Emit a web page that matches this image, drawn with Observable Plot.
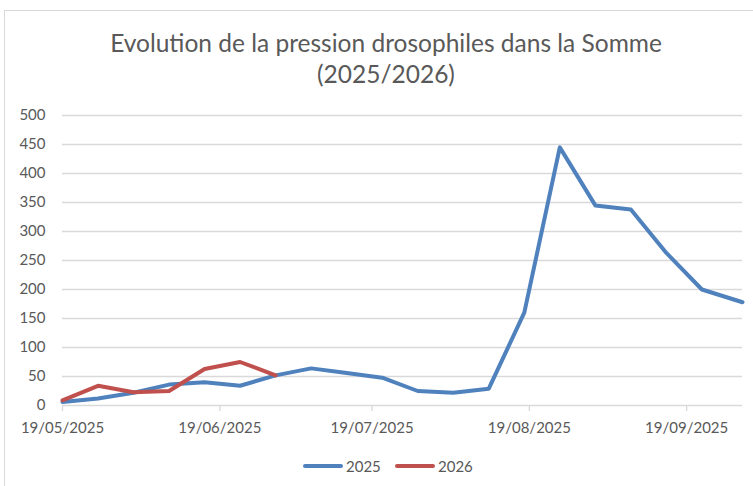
<!DOCTYPE html>
<html><head><meta charset="utf-8">
<script src="https://cdn.jsdelivr.net/npm/d3@7"></script>
<script src="https://cdn.jsdelivr.net/npm/@observablehq/plot@0.6"></script>
<style>
body{margin:0;background:#fff;}
#wrap{position:relative;width:753px;height:486px;overflow:hidden;font-family:Lato,"Open Sans",sans-serif;color:#595959;background:#fff;}
#frame{position:absolute;left:4px;top:10px;width:800px;height:520px;border:1px solid #d9d9d9;box-sizing:border-box;}
#title{position:absolute;left:0;width:772px;top:27px;text-align:center;font-size:24.5px;line-height:31px;}
#chart{position:absolute;left:0;top:100px;}
#legend{position:absolute;top:456px;left:0;height:20px;}
.sw{position:absolute;top:8px;width:40px;height:4px;border-radius:2px;}
.lt{position:absolute;top:0;font-size:15px;line-height:20px;}
</style>
</head><body>
<div id="wrap">
  <div id="frame"></div>
  <div id="title">Evolution de la pression drosophiles dans la Somme<br>(2025/2026)</div>
  <div id="chart"></div>
  <div id="legend"></div>
</div>
<script>
const dateLabels = ["19/05/2025","26/05/2025","02/06/2025","09/06/2025","16/06/2025","23/06/2025","30/06/2025",
  "07/07/2025","14/07/2025","21/07/2025","28/07/2025","04/08/2025","11/08/2025","18/08/2025","25/08/2025",
  "01/09/2025","08/09/2025","15/09/2025","22/09/2025","30/09/2025"];
const values2025 = [6,12,22,36,40,34,52,64,56,48,25,22,29,160,445,345,338,263,200,178];
const values2026 = [9,34,23,25,63,75,52];
const seriesNames = ["2025","2026"];
const seriesColors = ["#4F81BD","#C0504D"];
const xTickLabels = ["19/05/2025","19/06/2025","19/07/2025","19/08/2025","19/09/2025"];
const yTicks = [0,50,100,150,200,250,300,350,400,450,500];

const parse = d3.utcParse("%d/%m/%Y");
const dates = dateLabels.map(parse);
const data = [
  ...values2025.map((v,i)=>({series:seriesNames[0], date:dates[i], value:v})),
  ...values2026.map((v,i)=>({series:seriesNames[1], date:dates[i], value:v}))
];

const chart = Plot.plot({
  width:753, height:350,
  marginTop:15, marginBottom:45, marginLeft:62, marginRight:11,
  style:{fontFamily:"Lato, 'Open Sans', sans-serif", fontSize:"15px", color:"#595959", background:"transparent"},
  x:{type:"utc", domain:[dates[0], dates[dates.length-1]], label:null},
  y:{domain:[0,500], label:null},
  color:{domain:seriesNames, range:seriesColors},
  marks:[
    Plot.ruleY(yTicks, {y:d=>d, stroke:"#d9d9d9", strokeWidth:1.5}),
    Plot.axisY({ticks:yTicks, tickSize:0, tickPadding:17, tickFormat:d=>String(d), label:null}),
    Plot.axisX({ticks:xTickLabels.map(parse), tickFormat:d3.utcFormat("%d/%m/%Y"), tickSize:6, tickPadding:11, stroke:"#d9d9d9", strokeWidth:1.3, strokeOpacity:1, label:null}),
    Plot.line(data, {x:"date", y:"value", z:"series", stroke:"series", strokeWidth:4, strokeLinejoin:"round", strokeLinecap:"round"})
  ]
});
document.getElementById("chart").appendChild(chart);

const legend = document.getElementById("legend");
const legendX = [303, 395];
seriesNames.forEach((name,i)=>{
  const sw = document.createElement("div");
  sw.className="sw"; sw.style.left=legendX[i]+"px"; sw.style.background=seriesColors[i];
  legend.appendChild(sw);
  const t = document.createElement("div");
  t.className="lt"; t.style.left=(legendX[i]+43)+"px"; t.textContent=name;
  legend.appendChild(t);
});
</script>
</body></html>
